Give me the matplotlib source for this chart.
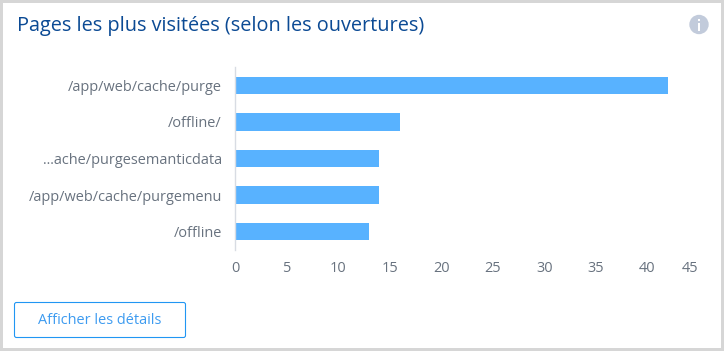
import matplotlib
matplotlib.use('Agg')
import matplotlib.pyplot as plt
from matplotlib.patches import Rectangle, FancyBboxPatch, Circle
from matplotlib.transforms import ScaledTranslation

# data
pages = ['/app/web/cache/purge', '/offline/', '...ache/purgesemanticdata',
         '/app/web/cache/purgemenu', '/offline']
visites = [42, 16, 14, 14, 13]
x_ticks = [0, 5, 10, 15, 20, 25, 30, 35, 40, 45]

W, H = 724, 351
plt.rcParams['font.family'] = ['Open Sans', 'DejaVu Sans']

fig = plt.figure(figsize=(W / 100, H / 100), dpi=100, facecolor='white')

# fond en pixels pour le cadre, le bouton et l'icone
bg = fig.add_axes([0, 0, 1, 1], zorder=0)
bg.set_xlim(0, W)
bg.set_ylim(H, 0)
bg.axis('off')

gris = '#d6d6d6'
bg.add_patch(Rectangle((0, 0), W, 3, color=gris, lw=0))
bg.add_patch(Rectangle((0, 348), W, 3, color=gris, lw=0))
bg.add_patch(Rectangle((0, 0), 3, H, color=gris, lw=0))
bg.add_patch(Rectangle((721, 0), 3, H, color=gris, lw=0))

bg.text(17, 26, 'Pages les plus visitées (selon les ouvertures)', fontsize=14.33,
        color='#0b4a94', va='center', ha='left')

# icone info
bg.add_patch(Circle((699, 24.5), 9.7, color='#c2cbdb', lw=0))
bg.add_patch(Rectangle((697.8, 23), 2.6, 8, color='white', lw=0))
bg.add_patch(Rectangle((697.8, 18.5), 2.6, 2.6, color='white', lw=0))

# bouton
bg.add_patch(FancyBboxPatch((14.5, 302.5), 171, 35, boxstyle='round,pad=0,rounding_size=2',
                            fc='white', ec='#2196f3', lw=0.8))
bg.text(100, 320, 'Afficher les détails', fontsize=10.45, color='#3d9bf0',
        ha='center', va='center')

# graphique
x0, x1 = 235, 699
y_top, y_bot = 67, 250
ax = fig.add_axes([x0 / W, 1 - y_bot / H, (x1 - x0) / W, (y_bot - y_top) / H], zorder=1)
ax.patch.set_alpha(0)
pos = list(range(len(pages)))
ax.barh(pos, visites, height=0.47, color='#58b2ff')
ax.set_xlim(0, 45)
ax.set_ylim(len(pages) - 0.5, -0.5)
ax.set_yticks(pos)
ax.set_yticklabels(pages, fontsize=10.45, color='#68727f')
ax.set_xticks(x_ticks)
ax.set_xticklabels(x_ticks, fontsize=10.45, color='#68727f')
ax.tick_params(axis='both', length=0)
ax.tick_params(axis='y', pad=9.4)
ax.tick_params(axis='x', pad=8)

for s in ['top', 'right', 'bottom']:
    ax.spines[s].set_visible(False)
ax.spines['left'].set_color('#d8dce3')
ax.spines['left'].set_linewidth(1)

# le dernier libelle est decale vers la gauche dans l'original
lab = ax.get_xticklabels()[-1]
lab.set_transform(lab.get_transform() + ScaledTranslation(-9 / 100, 0, fig.dpi_scale_trans))

fig.savefig('out.png', dpi=100)
